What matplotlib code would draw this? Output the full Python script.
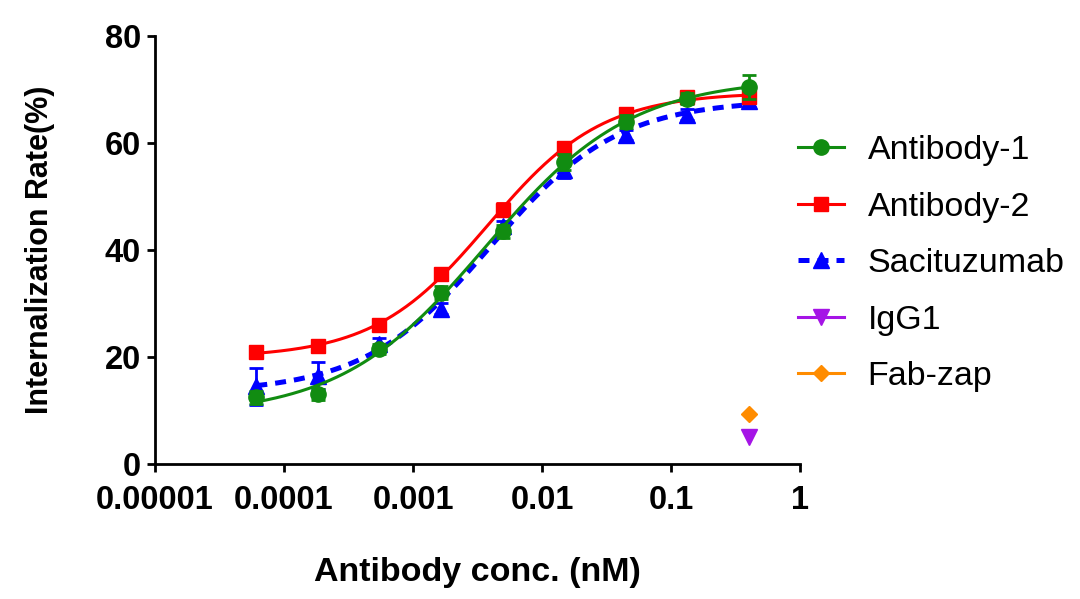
import numpy as np
import matplotlib
matplotlib.use("Agg")
import matplotlib.pyplot as plt

plt.rcParams['font.family'] = ['Liberation Sans', 'DejaVu Sans']

# DATA (3-fold dilution series, nM)
conc = [0.4 / 3 ** i for i in range(8, -1, -1)]

ab1 = [12.5, 13.0, 21.5, 32.0, 43.5, 56.5, 64.0, 68.3, 70.5]
ab1_err = [1.2, 1.0, 1.0, 1.2, 1.2, 1.5, 1.2, 1.0, 2.2]
ab2 = [21.0, 22.0, 26.0, 35.5, 47.5, 59.0, 65.5, 68.5, 68.5]
ab2_err = [1.0, 1.0, 1.0, 1.2, 1.2, 1.2, 1.0, 1.0, 1.0]
sac = [14.5, 16.5, 22.5, 29.0, 44.5, 55.0, 61.5, 65.3, 67.8]
sac_err = [3.5, 2.5, 1.0, 1.0, 1.0, 1.5, 1.0, 1.0, 1.0]
igg1_x = [0.4]
igg1 = [5.0]
fabzap_x = [0.4]
fabzap = [9.3]

names = ["Antibody-1", "Antibody-2", "Sacituzumab", "IgG1", "Fab-zap"]
colors = ["#118c11", "#ff0000", "#0000ff", "#a514e6", "#ff8c00"]


def fit_4pl(x, y):
    # grid search on logEC50 / hill, linear solve for bottom / top
    lx = np.log10(np.asarray(x))
    y = np.asarray(y)
    L = np.arange(-5, 0, 0.01)[:, None, None]
    H = np.arange(0.3, 2.0, 0.01)[None, :, None]
    s = 1.0 / (1.0 + 10 ** ((L - lx) * H))
    n = len(y)
    ss = (s * s).sum(-1)
    s1 = s.sum(-1)
    sy = (s * y).sum(-1)
    y1 = y.sum()
    det = n * ss - s1 * s1
    b = (ss * y1 - s1 * sy) / det
    a = (n * sy - s1 * y1) / det
    res = ((b[..., None] + a[..., None] * s - y) ** 2).sum(-1)
    i, j = np.unravel_index(np.argmin(res), res.shape)
    return L[i, 0, 0], H[0, j, 0], b[i, j], a[i, j]


def curve(x, params):
    l, h, b, a = params
    return b + a / (1.0 + 10 ** ((l - np.log10(x)) * h))


fig = plt.figure(figsize=(10.8, 5.99), dpi=100)
ax = fig.add_axes([0.1435, 0.2254, 0.5975, 0.7146])

xx = np.logspace(np.log10(conc[0]), np.log10(conc[-1]), 300)
series = [(ab1, ab1_err, 'o', '-', 3), (ab2, ab2_err, 's', '-', 2), (sac, sac_err, '^', '--', 1)]
handles = []
for k, (vals, err, mk, ls, z) in enumerate(series):
    p = fit_4pl(conc, vals)
    if ls == '--':
        ln, = ax.plot(xx, curve(xx, p), color=colors[k], lw=3.6, dashes=(2.2, 1.6), zorder=z)
    else:
        ln, = ax.plot(xx, curve(xx, p), color=colors[k], lw=2.2, zorder=z)
    ax.errorbar(conc, vals, yerr=err, fmt=mk, color=colors[k], ms=11 if mk != 's' else 10,
                elinewidth=2, capsize=5, capthick=2, zorder=z + 0.5)
    h, = ax.plot([], [], color=colors[k], lw=2.2 if ls == '-' else 3.6, marker=mk,
                 ms=11 if mk != 's' else 10,
                 dashes=(2.2, 1.6) if ls == '--' else (None, None))
    handles.append(h)

ax.plot(igg1_x, igg1, 'v', color=colors[3], ms=11, zorder=4)
ax.plot(fabzap_x, fabzap, 'D', color=colors[4], ms=8, zorder=4)
handles.append(ax.plot([], [], color=colors[3], lw=2.2, marker='v', ms=11)[0])
handles.append(ax.plot([], [], color=colors[4], lw=2.2, marker='D', ms=8)[0])

ax.set_xscale('log')
ax.set_xlim(1e-5, 1)
ax.set_ylim(0, 80)
ax.set_xticks([1e-5, 1e-4, 1e-3, 1e-2, 1e-1, 1])
ax.set_xticklabels(["0.00001", "0.0001", "0.001", "0.01", "0.1", "1"])
ax.minorticks_off()
ax.set_yticks([0, 20, 40, 60, 80])

for s in ['top', 'right']:
    ax.spines[s].set_visible(False)
for s in ['left', 'bottom']:
    ax.spines[s].set_linewidth(2)
ax.tick_params(width=2, length=6, labelsize=23.5)
ax.tick_params(axis='x', pad=9)
ax.tick_params(axis='y', pad=4)
for lab in ax.get_xticklabels() + ax.get_yticklabels():
    lab.set_fontweight('bold')

ax.set_xlabel("Antibody conc. (nM)", fontsize=24.5, fontweight='bold', labelpad=30)
ax.set_ylabel("Internalization Rate(%)", fontsize=22, fontweight='bold', labelpad=36)

ax.legend(handles, names, loc='upper left', bbox_to_anchor=(0.975, 0.80), frameon=False,
          fontsize=24.5, handlelength=1.35, handletextpad=0.7, labelspacing=0.75,
          borderaxespad=0)

fig.savefig("out.png", dpi=100)
